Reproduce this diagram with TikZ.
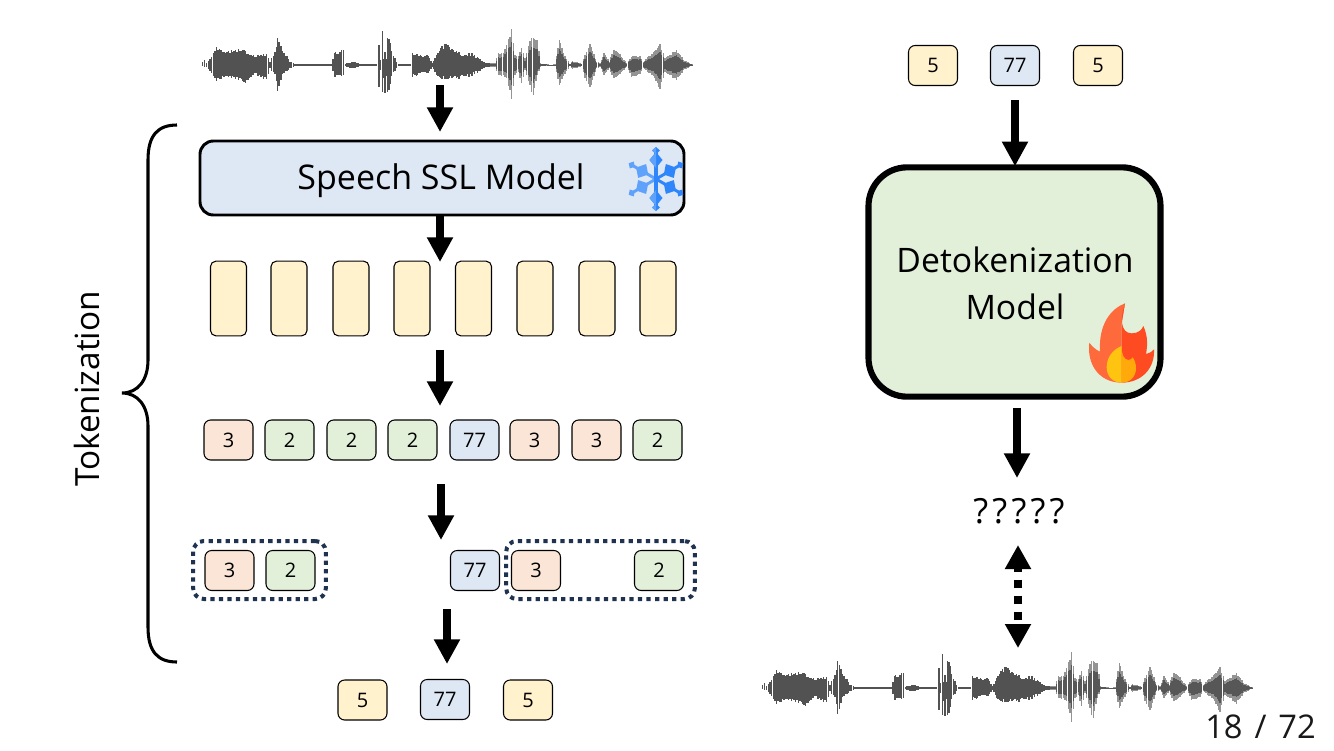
\documentclass[tikz,border=0pt]{standalone}
\usepackage{fontspec}
\setmainfont{Open Sans}
\newfontfamily\pagefont[WordSpace=1.4]{Open Sans}
\usetikzlibrary{arrows.meta}
\definecolor{boxblue}{HTML}{DEE8F5}
\definecolor{tokyellow}{HTML}{FFF2CC}
\definecolor{tokred}{HTML}{FBE5D6}
\definecolor{tokgreen}{HTML}{E2F0D9}
\definecolor{navy}{HTML}{1F3350}
\definecolor{flkdark}{HTML}{2E86FA}
\definecolor{flklight}{HTML}{5FA2FB}
\newcommand{\fsz}[1]{\fontsize{#1}{#1}\selectfont}
\newcommand{\speechwave}[2]{%
 \pgfmathsetseed{11}%
 \begin{scope}[shift={(#1,#2)},scale=1/3]
 \fill[black!18] (1268,92) rectangle (1273,112);
 \foreach \x/\u/\d [remember=\x as \lx (initially 33),remember=\u as \lu (initially 2),remember=\d as \ld (initially 2)] in {
  43/15/5,50/5/5,65/25/25,80/45/40,115/40/35,150/48/45,170/35/50,195/25/25,230/30/40,240/12/12,255/35/25,263/85/82,277/45/30,300/10/10,315/4/4,425/3/3,433/35/35,445/35/30,460/50/35,467/5/5,493/10/10,510/3/3,560/3/3,567/60/65,572/15/15,577/115/90,581/20/40,585/40/85,589/15/30,593/90/90,605/40/30,620/10/10,625/3/3,660/3/3,667/35/35,695/25/20,715/30/25,727/5/5,740/30/30,765/60/40,795/38/33,820/30/35,850/30/25,870/15/15,890/5/5,915/5/5,925/35/30,940/35/30,950/60/40,965/100/95,975/30/30,985/25/20,995/50/55,1005/20/15,1020/70/60,1030/80/90,1042/75/30,1052/5/5,1078/1/1,1095/2/2,1108/75/60,1125/25/25,1140/4/4,1148/12/12,1175/4/4,1185/30/40,1200/60/65,1220/10/10,1230/5/5,1242/35/30,1258/10/10,1270/45/40,1290/30/25,1310/5/5,1325/25/35,1350/25/25,1360/10/10,1390/35/30,1410/60/70,1425/20/20,1460/45/45,1480/15/15,1507/2/2}{
  \pgfmathtruncatemacro{\nn}{max(1,(\x-\lx)/4)}
  \foreach \k in {1,...,\nn}{
   \pgfmathsetmacro{\xx}{\lx+(\x-\lx)*\k/\nn}
   \pgfmathsetmacro{\rr}{\xx>900?0.95+0.15*rnd:0.85+0.35*rnd}
   \pgfmathsetmacro{\uu}{(\lu+(\u-\lu)*\k/\nn)*(\lu>8?\rr:1)}
   \pgfmathsetmacro{\dd}{(\ld+(\d-\ld)*\k/\nn)*(\ld>8?\rr:1)}
   \ifdim\xx pt>900pt
     \fill[black!42] (\xx-2.2,105-\uu) rectangle (\xx+2.2,105+\dd);
     \fill[black!66] (\xx-2.2,105-.65*\uu) rectangle (\xx+2.2,105+.6*\dd);
   \else
     \fill[black!68] (\xx-2.2,105-\uu) rectangle (\xx+2.2,105+\dd);
   \fi
  }
 }
 \end{scope}}
\tikzset{
 x=.75pt,y=-.75pt,
 bigarrow/.style={line width=6pt,shorten >=-1.5pt,-{Triangle[length=18.5pt,width=18.5pt]}},
 tallbox/.style={draw=black,fill=tokyellow,line width=.8pt,rounded corners=4pt,minimum width=27pt,minimum height=56pt,inner sep=0pt},
 token/.style={draw=black,line width=.8pt,rounded corners=5pt,minimum width=36.75pt,minimum height=30pt,inner sep=0pt,font=\fsz{15}},
 tokr/.style={token,fill=tokred},
 tokg/.style={token,fill=tokgreen},
 tokb/.style={token,fill=boxblue},
 toky/.style={token,fill=tokyellow},
 groupbox/.style={draw=navy,line width=3pt,dash pattern=on 3.2pt off 3.2pt,rounded corners=8pt,inner sep=0pt},
 label/.style={inner sep=0pt,text=black},
}
\begin{document}
\begin{tikzpicture}
\useasboundingbox (0,0) rectangle (1334,750);
% waveforms
\speechwave{190}{30}
\speechwave{750}{653}
\coordinate (w1) at (440,85);
\coordinate (w2b) at (1018,648);
% models
\node[draw=black,fill=boxblue,line width=2.2pt,rounded corners=10pt,minimum width=363pt,minimum height=55.5pt,inner sep=0pt] (ssl) at (442,178) {};
\node[label,font=\fsz{25.5}] (ssltext) at (441,181) {Speech SSL Model};
% snowflake
\begin{scope}
 \clip (600,143) rectangle (685,214);
 \foreach \a/\c in {30/flkdark,-30/flkdark,150/flklight,210/flklight}{
  \begin{scope}[shift={(656,179)},rotate=\a]
   \draw[\c,line width=2.2pt] (0,0) -- (27,0);
   \fill[\c] (9,0) -- (16,-8) -- (23,0) -- (16,8) -- cycle;
   \fill[\c] (24.5,0) -- (28,-4) -- (31.5,0) -- (28,4) -- cycle;
  \end{scope}
 }
 \foreach \a in {90,-90}{
  \begin{scope}[shift={(656,179)},rotate=\a]
   \draw[flkdark,line width=2.6pt] (0,0) -- (28,0);
   \fill[flkdark] (11,0) -- (19,-6.5) -- (27,0) -- (19,6.5) -- cycle;
   \fill[flkdark] (25,0) -- (28.5,-4) -- (32,0) -- (28.5,4) -- cycle;
  \end{scope}
 }
 \begin{scope}
  \clip (640,143) rectangle (656,214);
  \foreach \a in {90,-90}{
   \begin{scope}[shift={(656,179)},rotate=\a]
    \fill[flklight] (11,0) -- (19,-6.5) -- (27,0) -- (19,6.5) -- cycle;
    \fill[flklight] (25,0) -- (28.5,-4) -- (32,0) -- (28.5,4) -- cycle;
   \end{scope}
  }
 \end{scope}
\end{scope}
% feature boxes
\foreach \n/\x in {1/228.5,2/289,3/351,4/412,5/473.5,6/535,7/597,8/658}{
 \node[tallbox] (f\n) at (\x,298.5) {};
}
% token row
\node[tokr] (a1) at (228.5,440) {3};
\node[tokg] (a2) at (289.5,440) {2};
\node[tokg] (a3) at (351.5,440) {2};
\node[tokg] (a4) at (412.5,440) {2};
\node[tokb] (a5) at (474.5,440) {77};
\node[tokr] (a6) at (534.5,440) {3};
\node[tokr] (a7) at (596.5,440) {3};
\node[tokg] (a8) at (657.5,440) {2};
% deduplicated row
\node[groupbox,minimum width=99.5pt,minimum height=43.5pt] (g1) at (259.5,570) {};
\node[groupbox,minimum width=141.5pt,minimum height=43.5pt] (g2) at (600.5,570) {};
\node[tokr] (b1) at (229.5,570.5) {3};
\node[tokg] (b2) at (290.5,570.5) {2};
\node[tokb] (b3) at (475,570.5) {77};
\node[tokr] (b4) at (536,570.5) {3};
\node[tokg] (b5) at (659,570.5) {2};
% final tokens
\node[toky] (c1) at (362.5,700) {5};
\node[tokb] (c2) at (445,699.5) {77};
\node[toky] (c3) at (528,700) {5};
\node[toky] (d1) at (933,65.5) {5};
\node[tokb] (d2) at (1015,65.5) {77};
\node[toky] (d3) at (1098,65.5) {5};
% detok model
\node[draw=black,fill=tokgreen,line width=4.6pt,rounded corners=29pt,minimum width=219pt,minimum height=172pt,inner sep=0pt] (det) at (1014.5,282) {};
\node[label,font=\fsz{25.3}] (dettext1) at (1015,259.5) {Detokenization};
\node[label,font=\fsz{25.3}] (dettext2) at (1015,307) {Model};
% flame
\begin{scope}[shift={(1040,280)},scale=1/3]
 \definecolor{flL}{HTML}{FF6A3C}\definecolor{flR}{HTML}{FF4B22}
 \definecolor{inL}{HTML}{FFC40F}\definecolor{inR}{HTML}{FFA90A}
 \fill[flL] (255,70) .. controls (215,85) and (175,130) .. (180,215) .. controls (165,208) and (155,198) .. (148,188) .. controls (140,250) and (175,308) .. (245,308) -- (245,130) -- cycle;
 \fill[flR] (255,70) .. controls (240,110) and (240,160) .. (275,160) .. controls (295,160) and (305,150) .. (310,138) .. controls (325,170) and (322,200) .. (318,222) .. controls (328,220) and (337,215) .. (342,208) .. controls (345,265) and (305,308) .. (245,308) -- (245,130) -- cycle;
 \fill[inL] (245,198) .. controls (215,210) and (200,235) .. (200,262) .. controls (200,290) and (220,308) .. (245,308) -- cycle;
 \fill[inR] (245,198) .. controls (243,220) and (252,240) .. (265,240) .. controls (272,240) and (276,236) .. (278,232) .. controls (285,242) and (288,252) .. (288,265) .. controls (288,290) and (270,308) .. (245,308) -- cycle;
\end{scope}
% labels
\node[label,font={\fsz{26}\addfontfeature{LetterSpace=12}}] (qq) at (1019,511) {?????};
\node[label,font=\fsz{25},rotate=90] (tk) at (87,389) {Tokenization};
\node[label,font={\pagefont\fsz{24.5}},text=black!90,anchor=east] (pg) at (1316,727) {18 / 72};
% brace
\coordinate (br1) at (177,125);
\coordinate (br2) at (122,393);
\coordinate (br3) at (177,662);
\draw[line width=2.3pt] (br1) .. controls (158,125) and (148,135) .. (148,160) -- (148,360) .. controls (148,380) and (138,393) .. (br2) .. controls (138,393) and (148,406) .. (148,426) -- (148,627) .. controls (148,652) and (158,662) .. (br3);
% arrows
\coordinate (n1) at (440,130);
\coordinate (s2) at (440,215);
\coordinate (e2) at (440,260);
\coordinate (s3) at (440,350);
\coordinate (e3) at (440,404);
\coordinate (s4) at (441,484);
\coordinate (e4) at (441,538);
\coordinate (s5) at (447,609);
\coordinate (e5) at (447,662);
\coordinate (s6) at (1015,100);
\coordinate (s7) at (1017,408);
\coordinate (e7) at (1017,476);
\coordinate (w2t) at (1018,545);
\draw[bigarrow] (w1) -- (n1);
\draw[bigarrow] (s2) -- (e2);
\draw[bigarrow] (s3) -- (e3);
\draw[bigarrow] (s4) -- (e4);
\draw[bigarrow] (s5) -- (e5);
\draw[bigarrow] (s6) -- (det.north -| s6);
\draw[bigarrow] (s7) -- (e7);
\draw[line width=6pt,dash pattern=on 6pt off 6pt,dash phase=3pt,{Triangle[length=18pt,width=18.5pt]}-{Triangle[length=18pt,width=18.5pt]}] (w2t) -- (w2b);
\end{tikzpicture}
\end{document}
